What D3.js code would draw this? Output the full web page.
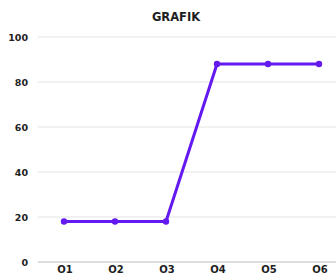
<!DOCTYPE html>
<html lang="en">
	<head>
		<meta charset="utf-8">
		<title>Grafik</title>
		<script type="text/javascript" src="https://cdn.jsdelivr.net/npm/d3@7"></script>
		<style type="text/css">
			body { margin: 0; background: white; }
			text { font-family: "DejaVu Sans", sans-serif; font-weight: bold; fill: #1e1e1e; }
		</style>
	</head>
	<body>
		<script type="text/javascript">

			var w = 336;
			var h = 275;

			//Data
			var categories = ["O1", "O2", "O3", "O4", "O5", "O6"];
			var values = [18, 18, 18, 88, 88, 88];
			var yTicks = [0, 20, 40, 60, 80, 100];

			var svg = d3.select("body")
						.append("svg")
						.attr("width", w)
						.attr("height", h);

			var xScale = d3.scalePoint()
							.domain(categories)
							.range([64, 319]);

			var yScale = d3.scaleLinear()
							.domain([0, 100])
							.range([262, 37]);

			//Gridlines
			svg.append("g")
				.selectAll("line")
				.data(yTicks)
				.enter()
				.append("line")
				.attr("x1", 38)
				.attr("x2", w)
				.attr("y1", function(d) { return yScale(d); })
				.attr("y2", function(d) { return yScale(d); })
				.attr("stroke", function(d) { return d == 0 ? "#bbb" : "#e3e3e3"; })
				.attr("stroke-width", 1);

			//Y labels
			svg.append("g")
				.selectAll("text")
				.data(yTicks)
				.enter()
				.append("text")
				.text(function(d) { return d; })
				.attr("x", 28)
				.attr("y", function(d) { return yScale(d) + 3.5; })
				.attr("text-anchor", "end")
				.attr("font-size", 9.5);

			//X labels
			svg.append("g")
				.selectAll("text")
				.data(categories)
				.enter()
				.append("text")
				.text(function(d) { return d; })
				.attr("x", function(d) { return xScale(d) + 1; })
				.attr("y", 273)
				.attr("text-anchor", "middle")
				.attr("font-size", 10);

			var lineGenerator = d3.line()
				.x(function(d, i) { return xScale(categories[i]); })
				.y(function(d) { return yScale(d); });

			svg.append("path")
				.datum(values)
				.attr("d", lineGenerator)
				.attr("fill", "none")
				.attr("stroke", "#6419f0")
				.attr("stroke-width", 3)
				.attr("stroke-linejoin", "round");

			svg.append("g")
				.selectAll("circle")
				.data(values)
				.enter()
				.append("circle")
				.attr("cx", function(d, i) { return xScale(categories[i]); })
				.attr("cy", function(d) { return yScale(d); })
				.attr("r", 3.2)
				.attr("fill", "#6419f0");

			svg.append("text")
				.text("GRAFIK")
				.attr("x", 176)
				.attr("y", 21)
				.attr("text-anchor", "middle")
				.attr("font-size", 11.5);

		</script>
	</body>
</html>
